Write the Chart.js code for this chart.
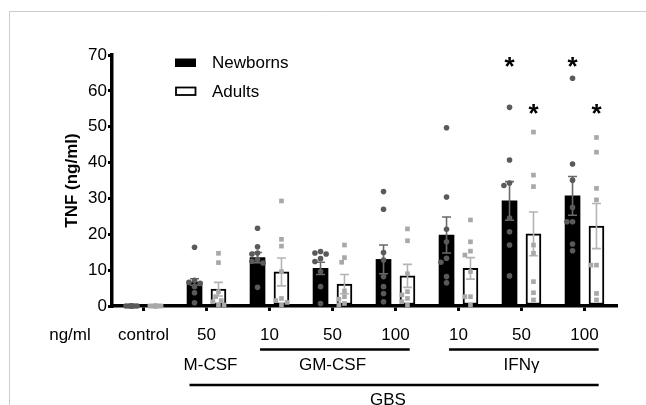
<!DOCTYPE html>
<html><head><meta charset="utf-8">
<script src="https://cdn.jsdelivr.net/npm/chart.js@4.4.1/dist/chart.umd.min.js"></script>
<style>html,body{margin:0;padding:0;background:#fff;}canvas{display:block;}</style>
</head><body>
<canvas id="c" width="646" height="405"></canvas>
<script>
// ---- data ----
const categories = ['control', '50', '10', '50', '100', '10', '50', '100'];
const groupNames = ['M-CSF', 'GM-CSF', 'IFNγ'];
const groupSpans = [[1, 1], [2, 4], [5, 7]];
const outerGroup = 'GBS';
const outerSpan = [1, 7];
const unitLabel = 'ng/ml';
const yTicks = [0, 10, 20, 30, 40, 50, 60, 70];

const newbornMean = [0, 6.7, 13.5, 10.5, 13.0, 19.8, 29.3, 30.7];
const newbornSem  = [0, 0.9, 1.4, 1.7, 4.0, 5.0, 5.4, 5.4];
const adultMean   = [0, 4.7, 9.5, 6.1, 8.4, 10.5, 20.1, 22.3];
const adultSem    = [0, 1.9, 3.9, 2.7, 3.2, 3.0, 6.1, 6.3];

const newbornPoints = [
  [0, 0, 0, 0, 0, 0, 0, 0],
  [16.4, 7.2, 6.6, 6.3, 5.4, 3.7, 0.9],
  [21.7, 16.5, 14.8, 14.5, 13.0, 12.5, 12.0, 5.2],
  [15.2, 14.8, 14.5, 13.2, 12.4, 9.6, 5.4, 0.7],
  [31.9, 27.0, 14.9, 12.8, 8.2, 5.4, 3.5, 1.2],
  [49.7, 30.4, 21.4, 17.9, 13.3, 12.2, 8.2, 6.5],
  [55.4, 40.7, 34.3, 33.6, 24.5, 20.7, 17.0, 8.4],
  [63.5, 39.6, 35.1, 27.5, 23.5, 23.5, 17.3, 15.4]
];
const adultPoints = [
  [0, 0, 0, 0, 0, 0, 0, 0],
  [14.7, 12.1, 4.0, 2.6, 1.5, 1.2, 0.3, 0.3],
  [29.3, 18.6, 16.7, 9.6, 2.1, 1.5, 1.0, 0.3],
  [17.0, 13.5, 12.2, 4.2, 2.6, 1.9, 0.7, 0.3],
  [21.5, 18.2, 9.0, 4.0, 3.1, 2.1, 1.2, 0.3],
  [24.0, 17.9, 15.3, 14.2, 9.6, 2.6, 2.6, 0.3],
  [48.5, 36.5, 33.3, 17.0, 14.7, 6.8, 3.7, 1.7],
  [47.0, 42.9, 32.8, 29.6, 11.4, 11.4, 3.5, 1.7]
];
const newbornSig = [false, false, false, false, false, false, true, true];
const adultSig   = [false, false, false, false, false, false, true, true];
const newbornStarLevel = 68;
const adultStarLevel = 55;

// ---- layout helpers ----
const SIDE = 0.19;             // bar centre offset, fraction of a category
const PX_PER_UNIT = 251 / 70, PX_PER_CAT = 63, DOT = 5.4, STEP = 2.8;

function swarm(values) {
  const placed = [];
  const offs = new Array(values.length);
  const order = values.map((v, i) => i).sort((a, b) => values[b] - values[a]);
  order.forEach(i => {
    const y = values[i] * PX_PER_UNIT;
    let best = 0, bestD = -1;
    for (const k of [0, -1, 1, -2, 2]) {
      const x = k * STEP;
      let mind = Infinity;
      placed.forEach(p => { mind = Math.min(mind, Math.hypot(p.x - x, p.y - y)); });
      if (mind >= DOT) { best = x; bestD = Infinity; break; }
      if (mind > bestD) { bestD = mind; best = x; }
    }
    placed.push({ x: best, y });
    offs[i] = best / PX_PER_CAT;
  });
  return offs;
}
function pointsFor(series, side) {
  const pts = [];
  series.forEach((vals, ci) => {
    const offs = swarm(vals);
    vals.forEach((v, j) => pts.push({ x: ci + side * SIDE + offs[j], y: v }));
  });
  return pts;
}
function barsFor(means, side) {
  return means.map((v, i) => ({ x: i + side * SIDE, y: v }));
}

const FONT = "'Liberation Sans', Arial, sans-serif";
Chart.defaults.font.family = FONT;
Chart.defaults.font.size = 17;
Chart.defaults.color = '#000';

const extras = {
  id: 'extras',
  afterDatasetDraw(chart, args) {
    if (args.index > 1) return;
    const sems = args.index === 0 ? newbornSem : adultSem;
    const means = args.index === 0 ? newbornMean : adultMean;
    const color = args.index === 0 ? '#6a6a6a' : '#b4b4b4';
    const y = chart.scales.y, ctx = chart.ctx;
    ctx.save();
    ctx.strokeStyle = color; ctx.lineWidth = 1.6;
    args.meta.data.forEach((bar, i) => {
      if (!sems[i]) return;
      const t = y.getPixelForValue(means[i] + sems[i]);
      const b = y.getPixelForValue(Math.max(0, means[i] - sems[i]));
      ctx.beginPath();
      ctx.moveTo(bar.x, t); ctx.lineTo(bar.x, b);
      ctx.moveTo(bar.x - 4.5, t); ctx.lineTo(bar.x + 4.5, t);
      ctx.moveTo(bar.x - 4.5, b); ctx.lineTo(bar.x + 4.5, b);
      ctx.stroke();
    });
    ctx.restore();
  },
  afterDraw(chart) {
    const ctx = chart.ctx, x = chart.scales.x, y = chart.scales.y;
    const c = i => x.getPixelForValue(i);
    const w = c(1) - c(0);
    ctx.save();
    // frame
    ctx.strokeStyle = '#cccccc'; ctx.lineWidth = 1;
    ctx.beginPath(); ctx.moveTo(9.5, 405); ctx.lineTo(9.5, 11.5); ctx.lineTo(646, 11.5); ctx.stroke();

    ctx.fillStyle = '#000';
    ctx.font = '17px ' + FONT;
    ctx.textAlign = 'center'; ctx.textBaseline = 'middle';
    ctx.fillText(unitLabel, 70, 335);

    // group underline + labels
    ctx.strokeStyle = '#000'; ctx.lineWidth = 2.6;
    groupSpans.forEach((sp, gi) => {
      if (sp[1] > sp[0]) {
        const x0 = c(sp[0]) - ctx.measureText(categories[sp[0]]).width / 2;
        const x1 = c(sp[1]) + ctx.measureText(categories[sp[1]]).width / 2;
        ctx.beginPath(); ctx.moveTo(x0, 349.5); ctx.lineTo(x1, 349.5); ctx.stroke();
      }
      const mid = sp[0] === sp[1] ? c(sp[0]) + 4 : c(Math.round((sp[0] + sp[1]) / 2));
      ctx.fillText(groupNames[gi], mid, 365);
    });
    const gx0 = c(outerSpan[0]) - 0.27 * w;
    const gx1 = c(outerSpan[1]) + ctx.measureText(categories[outerSpan[1]]).width / 2;
    ctx.beginPath(); ctx.moveTo(gx0, 385); ctx.lineTo(gx1, 385); ctx.stroke();
    ctx.fillText(outerGroup, (c(outerSpan[0]) + c(outerSpan[1])) / 2 - 0.12 * w, 400);

    // stars
    ctx.font = 'bold 26px ' + FONT;
    ctx.textBaseline = 'alphabetic';
    const m = ctx.measureText('*');
    const A = m.actualBoundingBoxAscent, D = m.actualBoundingBoxDescent;
    const drawStars = (sig, dsIndex, level) => {
      const meta = chart.getDatasetMeta(dsIndex);
      sig.forEach((s, i) => {
        if (!s) return;
        const yc = y.getPixelForValue(level);
        ctx.fillText('*', meta.data[i].x, yc + (A - D) / 2);
      });
    };
    drawStars(newbornSig, 0, newbornStarLevel);
    drawStars(adultSig, 1, adultStarLevel);

    // legend
    ctx.font = '17px ' + FONT;
    ctx.textAlign = 'left'; ctx.textBaseline = 'middle';
    ctx.fillStyle = '#000';
    ctx.fillRect(175, 58.5, 21, 8.5);
    ctx.fillText(chart.data.datasets[0].label, 212, 63);
    ctx.lineWidth = 1.8; ctx.strokeStyle = '#000';
    ctx.strokeRect(176, 87.5, 19.5, 7.5);
    ctx.fillText(chart.data.datasets[1].label, 212, 92);
    ctx.restore();
  }
};

new Chart(document.getElementById('c'), {
  type: 'bar',
  data: {
    labels: categories,
    datasets: [
      { type: 'bar', label: 'Newborns', data: barsFor(newbornMean, -1), xAxisID: 'xs', yAxisID: 'y',
        backgroundColor: '#000', borderWidth: 0, grouped: false, barThickness: 15, order: 3 },
      { type: 'bar', label: 'Adults', data: barsFor(adultMean, 1), xAxisID: 'xs', yAxisID: 'y',
        backgroundColor: '#fff', borderColor: '#000', borderWidth: 2, borderSkipped: false,
        grouped: false, barThickness: 15, order: 3 },
      { type: 'scatter', label: 'Newborns points', data: pointsFor(newbornPoints, -1), xAxisID: 'xs', yAxisID: 'y',
        pointStyle: 'circle', pointRadius: 2.8, backgroundColor: '#5a5a5a', borderWidth: 0, order: 1, clip: false },
      { type: 'scatter', label: 'Adults points', data: pointsFor(adultPoints, 1), xAxisID: 'xs', yAxisID: 'y',
        pointStyle: 'rect', pointRadius: 3.3, backgroundColor: '#a8a8a8', borderWidth: 0, order: 1, clip: false }
    ]
  },
  options: {
    responsive: false, animation: false, devicePixelRatio: 1,
    layout: { padding: { left: 50, right: 30, top: 55, bottom: 0 } },
    plugins: { legend: { display: false }, tooltip: { enabled: false } },
    scales: {
      x: { type: 'category', offset: true,
        grid: { drawOnChartArea: false, offset: false, tickLength: 5, lineWidth: 3, color: '#000' },
        border: { display: true, width: 3.5, color: '#000' },
        ticks: { padding: 14, color: '#000', font: { size: 17 }, maxRotation: 0, autoSkip: false },
        afterFit(s) { s.height = 99; } },
      xs: { type: 'linear', min: -0.5, max: 7.5, display: false, offset: false },
      y: { type: 'linear', min: yTicks[0], max: yTicks[yTicks.length - 1],
        afterBuildTicks(s) { s.ticks = yTicks.map(v => ({ value: v })); },
        ticks: { padding: 1, color: '#000', font: { size: 17 } },
        grid: { drawOnChartArea: false, tickLength: 4, lineWidth: 3, color: '#000' },
        border: { width: 3.5, color: '#000' },
        title: { display: true, text: 'TNF (ng/ml)', font: { size: 17, weight: 'bold' }, color: '#000', padding: { top: 12, bottom: 0 } },
        afterFit(s) { s.width = 62; } }
    }
  },
  plugins: [extras]
});
</script>
</body></html>
